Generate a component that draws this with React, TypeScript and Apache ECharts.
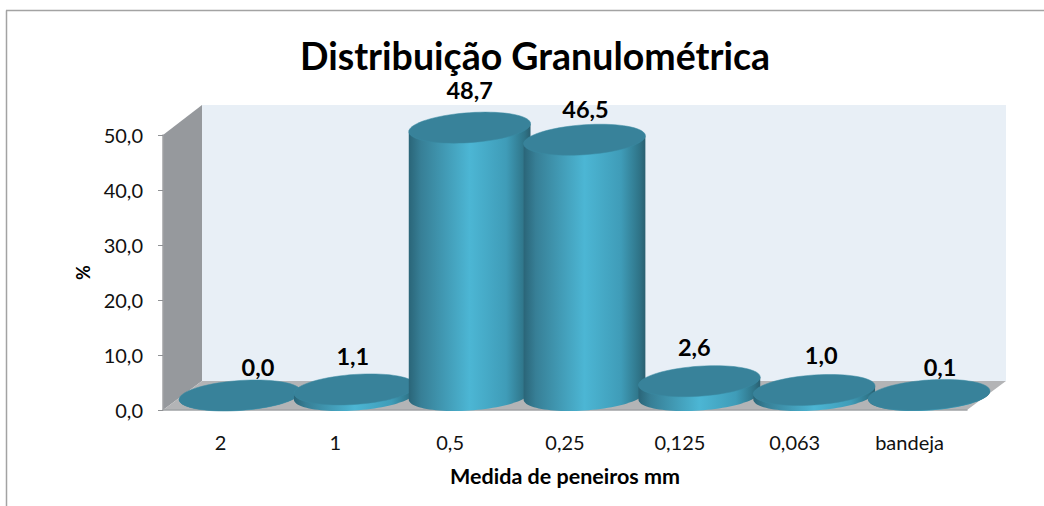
import React, { useEffect, useRef } from "react";
import * as echarts from "echarts";

const categories = ["2", "1", "0,5", "0,25", "0,125", "0,063", "bandeja"];
const percentValues = [0.0, 1.1, 48.7, 46.5, 2.6, 1.0, 0.1];
const labelShiftX = [18, -2, 0, 1, -5, 7, 11];
const labelShiftY = [-29, -33, -38, -31, -34, -35, -28];
const titleText = "Distribuição Granulométrica";
const xName = "Medida de peneiros mm";
const yName = "%";

const FONT = "Lato, Carlito, Calibri, sans-serif";
const G = { left: 163, right: 967, top: 135, bottom: 410 };
const DX = 39;
const DY = 29;

function ellipsePts(cx: number, cy: number, a: number, b: number, k: number, from: number, to: number, n = 48) {
  const pts: number[][] = [];
  for (let i = 0; i <= n; i++) {
    const t = from + ((to - from) * i) / n;
    pts.push([cx + a * Math.cos(t), cy + b * Math.sin(t) - k * a * Math.cos(t)]);
  }
  return pts;
}

function renderCylinder(params: any, api: any) {
  const idx = api.value(0);
  const val = api.value(1);
  const base = api.coord([idx, 0]);
  const top = api.coord([idx, val]);
  const a = api.size([1, 0])[0] * 0.53;
  const b = 15;
  const k = 0.066;
  const ox = DX / 2;
  const oy = -DY / 2;
  const cx = base[0] + ox;
  const by = base[1] + oy;
  const ty = top[1] + oy;
  const bottomArc = ellipsePts(cx, by, a, b, k, 0, Math.PI);
  const body = [...bottomArc, [cx - a, ty + k * a], [cx + a, ty - k * a]];
  const topFace = ellipsePts(cx, ty, a, b, k, 0, Math.PI * 2, 72);
  const label = val.toFixed(1).replace(".", ",");
  return {
    type: "group",
    children: [
      {
        type: "polygon",
        shape: { points: body },
        style: {
          fill: new echarts.graphic.LinearGradient(0, 0, 1, 0, [
            { offset: 0, color: "#2a6578" },
            { offset: 0.1, color: "#377f96" },
            { offset: 0.5, color: "#4cb6d4" },
            { offset: 0.8, color: "#3f9cb8" },
            { offset: 0.95, color: "#2f7488" },
            { offset: 1, color: "#2a5f70" },
          ]),
        },
      },
      {
        type: "polygon",
        shape: { points: topFace },
        style: { fill: "#38829a", stroke: "#3a8aa2", lineWidth: 0.5 },
      },
      {
        type: "text",
        z2: 50,
        style: {
          x: cx + labelShiftX[idx],
          y: ty + labelShiftY[idx],
          text: label,
          fill: "#000",
          font: `bold 23.5px ${FONT}`,
          align: "center",
          verticalAlign: "middle",
        },
      },
    ],
  };
}

export default function App() {
  const ref = useRef<HTMLDivElement>(null);
  useEffect(() => {
    const chart = echarts.init(ref.current!, undefined, { renderer: "svg" });
    chart.setOption({
      animation: false,
      backgroundColor: "#ffffff",
      title: {
        text: titleText,
        left: 530,
        top: 31,
        textAlign: "center",
        textStyle: { fontFamily: FONT, fontWeight: "bold", fontSize: 37.5, color: "#000" },
      },
      grid: { left: G.left, right: 1044 - G.right, top: G.top, bottom: 506 - G.bottom },
      xAxis: {
        type: "category",
        data: categories,
        axisTick: { show: false },
        axisLine: { show: true, lineStyle: { color: "#a0a2a5", width: 1.5 } },
        axisLabel: { color: "#111", fontFamily: FONT, fontSize: 20, margin: 22 },
        name: xName,
        nameLocation: "middle",
        nameGap: 55,
        nameTextStyle: { fontFamily: FONT, fontWeight: "bold", fontSize: 21.5, color: "#000" },
      },
      yAxis: {
        type: "value",
        min: 0,
        max: 50,
        interval: 10,
        splitLine: { show: false },
        axisLine: { show: true, lineStyle: { color: "#a0a2a5", width: 1.5 } },
        axisTick: { show: true, length: 5, lineStyle: { color: "#8f9194", width: 1 } },
        axisLabel: {
          color: "#111",
          fontFamily: FONT,
          fontSize: 20,
          margin: 20,
          formatter: (v: number) => v.toFixed(1).replace(".", ","),
        },
        name: yName,
        nameLocation: "middle",
        nameGap: 71,
        nameTextStyle: { fontFamily: FONT, fontWeight: "bold", fontSize: 18, color: "#000" },
      },
      graphic: [
        { type: "line", shape: { x1: 6.5, y1: 506, x2: 6.5, y2: 10.5 }, style: { stroke: "#a3a3a3", lineWidth: 1.5 } },
        { type: "line", shape: { x1: 6, y1: 10.5, x2: 1044, y2: 10.5 }, style: { stroke: "#a3a3a3", lineWidth: 1.5 } },
        {
          type: "polygon",
          shape: { points: [[G.left + DX, G.top - DY - 1], [G.right + DX, G.top - DY - 1], [G.right + DX, G.bottom - DY], [G.left + DX, G.bottom - DY]] },
          style: { fill: "#e8eff6" },
        },
        {
          type: "polygon",
          shape: { points: [[G.left, G.top], [G.left + DX, G.top - DY - 1], [G.left + DX, G.bottom - DY], [G.left, G.bottom]] },
          style: { fill: "#96999d" },
        },
        {
          type: "polygon",
          shape: { points: [[G.left, G.bottom], [G.left + DX, G.bottom - DY], [G.right + DX, G.bottom - DY], [G.right, G.bottom]] },
          style: { fill: "#b3b4b6" },
        },
      ],
      series: [
        {
          type: "custom",
          renderItem: renderCylinder,
          coordinateSystem: "cartesian2d",
          encode: { x: 0, y: 1 },
          clip: false,
          z: 5,
          data: percentValues.map((v, i) => [i, v]),
        },
      ],
    });
    return () => chart.dispose();
  }, []);
  return <div ref={ref} style={{ position: "absolute", left: 0, top: 0, width: 1044, height: 506 }} />;
}
